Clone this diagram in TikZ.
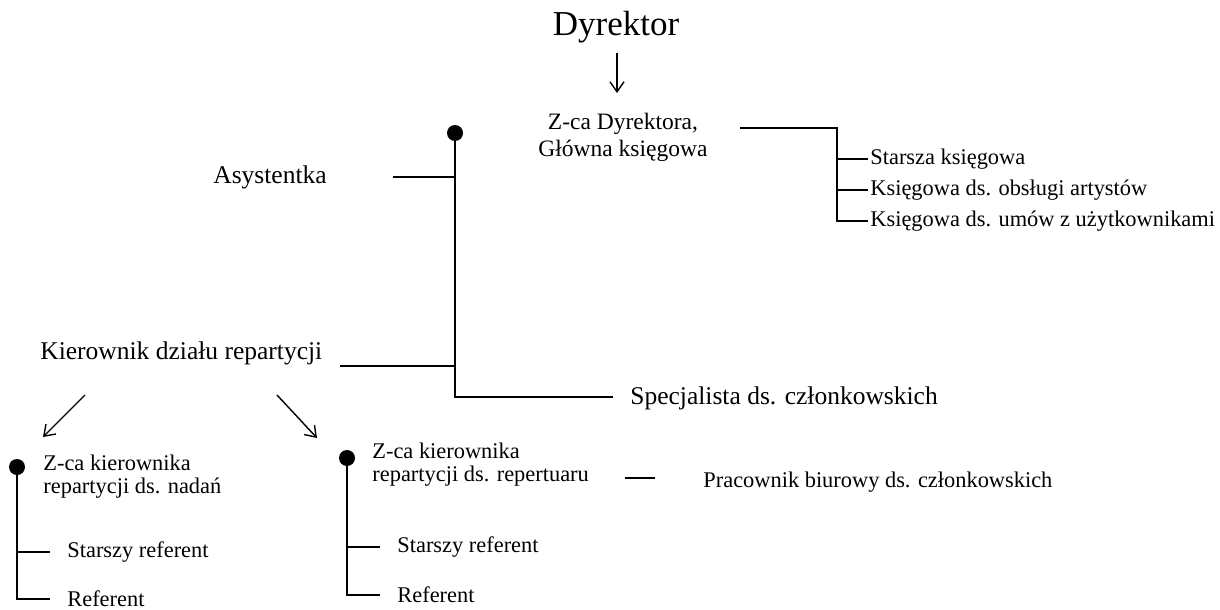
\documentclass[tikz,border=0pt]{standalone}
\usepackage{fontspec}
\setmainfont{Liberation Serif}
\usetikzlibrary{arrows.meta,positioning}
\tikzset{
   link/.style={line width=0.8pt},
   arr/.style={line width=0.7pt,-{Straight Barb[length=5pt,width=7pt]}},
   blob/.style={circle,fill=black,inner sep=0pt,minimum size=8pt},
   bosstext/.style={font=\fontsize{17.5}{20}\selectfont,inner sep=0pt},
   bigtext/.style={font=\fontsize{12.75}{14}\selectfont,inner sep=0pt},
   midtext/.style={font=\fontsize{11.75}{13.5}\selectfont,inner sep=0pt,align=center},
   smalltext/.style={font=\fontsize{11.2}{11.2}\selectfont,inner sep=0pt,align=left},
   leaf/.style={smalltext,inner xsep=8.5pt},
   acc/.style={smalltext,inner xsep=1pt},
}

\begin{document}
\begin{tikzpicture}[x=0.5pt,y=-0.5pt]
    \useasboundingbox (0,0) rectangle (1220,610);
    \node[bosstext] (dyr) at (616,27) {Dyrektor};
    \node[midtext] (zcaD) at (623,137) {Z-ca Dyrektora,\\Główna księgowa};
    \coordinate (t0) at (617,53);
    \coordinate (t1) at (617,93);
    \draw[arr] (t0) -- (t1);

    \node[blob] (dotA) at (455,133) {};
    \node[bigtext,anchor=west] (asys) at (213,177) {Asystentka};
    \node[bigtext,anchor=base west] (kier) at (40,359) {Kierownik działu repartycji};
    \node[bigtext,anchor=west] (spec) at (630,398) {Specjalista ds. członkowskich};
    \coordinate (a0) at (393,177);
    \coordinate (k0) at (340,366);
    \coordinate (s0) at (613,397);
    \draw[link] (dotA.center) |- (s0);
    \draw[link] (a0) -- (a0 -| dotA);
    \draw[link] (k0) -- (k0 -| dotA);

    % ksiegowosc
    \node[acc,anchor=west] (acc1) at (868,159) {Starsza księgowa};
    \node[acc,anchor=west] (acc2) at (868,190) {Księgowa ds. obsługi artystów};
    \node[acc,anchor=west] (acc3) at (868,221) {Księgowa ds. umów z użytkownikami};
    \coordinate (r0) at (740,128);
    \coordinate (r1) at (837,128);
    \draw[link] (r0) -- (r1) |- (acc3.west);
    \draw[link] (r1 |- acc1.west) -- (acc1.west);
    \draw[link] (r1 |- acc2.west) -- (acc2.west);

    % repartycja
    \coordinate (k1) at (85,395);
    \coordinate (k2) at (43,437);
    \coordinate (k3) at (277,395);
    \coordinate (k4) at (317,438);
    \draw[arr] (k1) -- (k2);
    \draw[arr] (k3) -- (k4);

    \node[blob] (dotB) at (17,467) {};
    \node[smalltext,anchor=north west] (zk1) at (43,455) {Z-ca kierownika\\repartycji ds. nadań};
    \node[leaf,anchor=west] (sr1) at (50,552) {Starszy referent};
    \node[leaf,anchor=west] (rf1) at (50,599) {Referent};
    \draw[link] (dotB.center) |- (rf1.west);
    \draw[link] (dotB |- sr1.west) -- (sr1.west);

    \node[blob] (dotC) at (347,458) {};
    \node[smalltext,anchor=north west] (zk2) at (372,443) {Z-ca kierownika\\repartycji ds. repertuaru};
    \node[leaf,anchor=west] (sr2) at (380,547) {Starszy referent};
    \node[leaf,anchor=west] (rf2) at (380,595) {Referent};
    \draw[link] (dotC.center) |- (rf2.west);
    \draw[link] (dotC |- sr2.west) -- (sr2.west);

    \node[smalltext,anchor=west] (prac) at (703,482) {Pracownik biurowy ds. członkowskich};
    \coordinate (p0) at (625,478);
    \coordinate (p1) at (655,478);
    \draw[link] (p0) -- (p1);
\end{tikzpicture}
\end{document}
